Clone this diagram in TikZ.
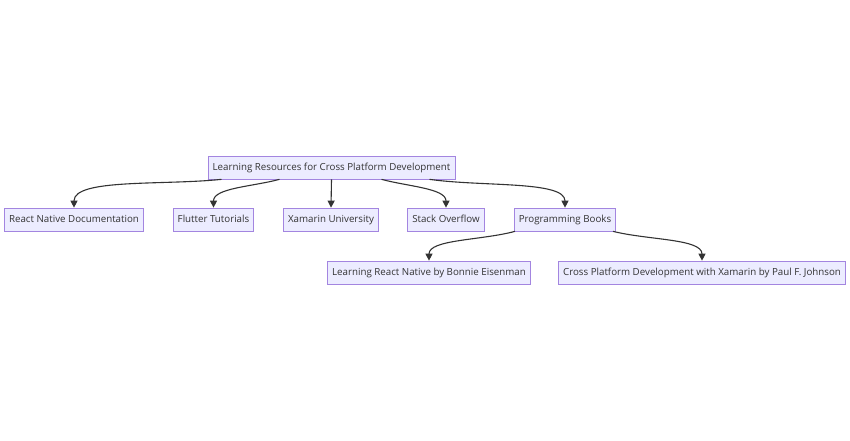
\documentclass[tikz,border=0pt]{standalone}
\usepackage{fontspec}
\setmainfont{Open Sans}
\usepackage{xcolor}
\definecolor{boxFill}{HTML}{ECECFF}
\definecolor{boxDraw}{HTML}{9370DB}
\definecolor{linkDark}{HTML}{333333}
\usetikzlibrary{arrows.meta}

\begin{document}
\begin{tikzpicture}[x=1pt, y=1pt,
  res/.style={rectangle, draw=boxDraw!85, fill=boxFill, line width=0.7pt, minimum height=23pt, text height=7pt, text depth=1.5pt, inner xsep=4.5pt, text=linkDark, font=\fontsize{9.75}{11}\selectfont},
  link/.style={draw=linkDark, line width=1.1pt, -{Triangle[length=7pt, width=7pt]}}]
  \useasboundingbox (0,0) rectangle (850,-440);
  \node[res] (root) at (331.5,-167.5) {Learning Resources for Cross Platform Development};
  \node[res] (rnd) at (74,-219.5) {React Native Documentation};
  \node[res] (flt) at (213.5,-219.5) {Flutter Tutorials};
  \node[res] (xam) at (331,-219.5) {Xamarin University};
  \node[res] (so) at (446,-219.5) {Stack Overflow};
  \node[res] (books) at (565,-219.5) {Programming Books};
  \node[res] (lrn) at (429,-272.5) {Learning React Native by Bonnie Eisenman};
  \node[res] (cpd) at (702,-272.5) {Cross Platform Development with Xamarin by Paul F. Johnson};
  \draw[link] ([xshift=-110pt]root.south) to[out=186, in=90, in looseness=0.5] (rnd.north);
  \draw[link] ([xshift=-52pt]root.south) to[out=195, in=90, in looseness=0.7] (flt.north);
  \draw[link] (root.south) -- (xam.north);
  \draw[link] ([xshift=50pt]root.south) to[out=-15, in=90, in looseness=0.7] (so.north);
  \draw[link] ([xshift=98pt]root.south) to[out=-8, in=90, in looseness=0.5] (books.north);
  \draw[link] ([xshift=-50pt]books.south) to[out=195, in=90, in looseness=0.6] (lrn.north);
  \draw[link] ([xshift=48pt]books.south) to[out=-14, in=90, in looseness=0.6] (cpd.north);
\end{tikzpicture}
\end{document}
